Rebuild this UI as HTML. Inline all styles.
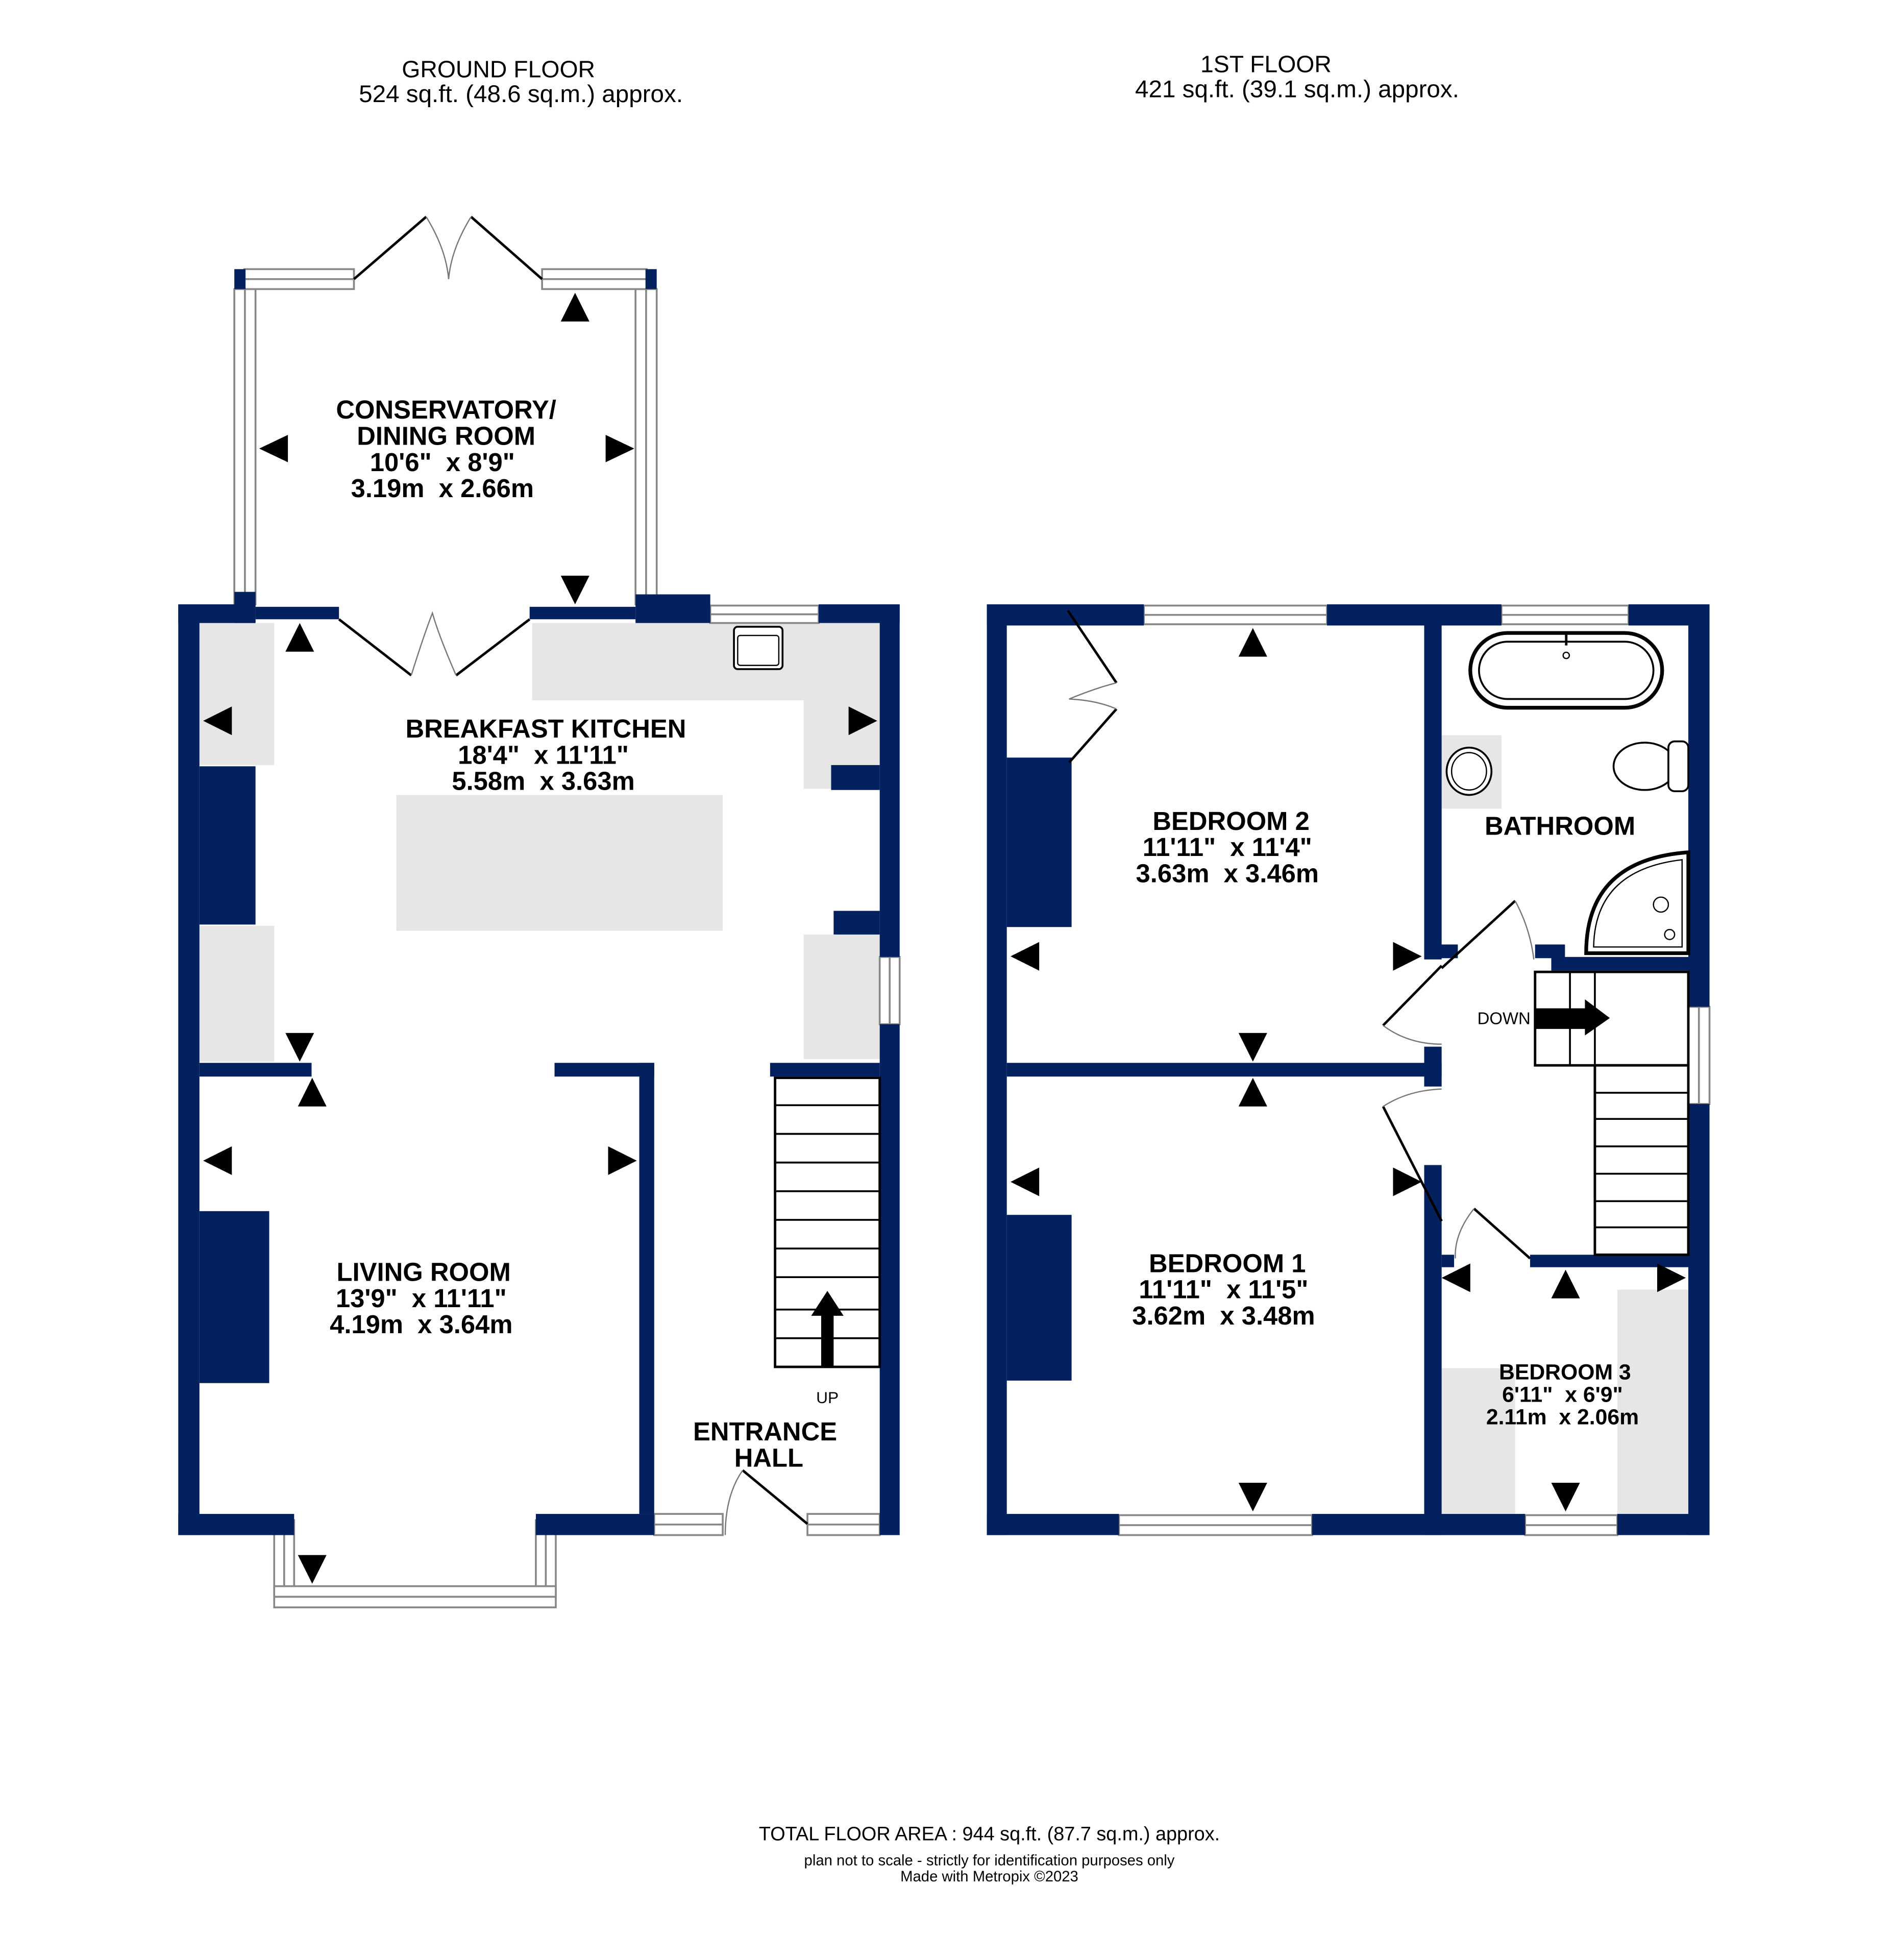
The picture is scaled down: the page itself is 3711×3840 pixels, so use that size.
<!DOCTYPE html>
<html><head><meta charset="utf-8"><style>
html,body{margin:0;padding:0;background:#fff}
svg{display:block}
text{font-family:"Liberation Sans",sans-serif;fill:#000;white-space:pre}
.b{font-weight:bold;font-size:20.8px}
.w{fill:#03215f}
.g{fill:#e6e6e6}
.ln{stroke:#000;stroke-width:2;fill:none}
.arc{stroke:#777;stroke-width:1;fill:none}
.st{stroke:#000;stroke-width:2;fill:#fff}
</style></head><body>
<svg width="3711" height="3840" viewBox="0 0 1520 1573" xmlns="http://www.w3.org/2000/svg" xml:space="preserve">
<rect width="1520" height="1573" fill="#fff"/>
<text x="400" y="62" font-size="19" text-anchor="middle">GROUND FLOOR</text>
<text x="418" y="82" font-size="19.5" text-anchor="middle">524 sq.ft. (48.6 sq.m.) approx.</text>
<text x="1016" y="58" font-size="19" text-anchor="middle">1ST FLOOR</text>
<text x="1041" y="78" font-size="19.5" text-anchor="middle">421 sq.ft. (39.1 sq.m.) approx.</text>
<text x="794" y="1477" font-size="15.5" text-anchor="middle">TOTAL FLOOR AREA : 944 sq.ft. (87.7 sq.m.) approx.</text>
<text x="794" y="1497" font-size="12" text-anchor="middle">plan not to scale - strictly for identification purposes only</text>
<text x="794" y="1510" font-size="12" text-anchor="middle">Made with Metropix ©2023</text>

<rect class="g" x="160" y="500" width="60" height="114"/>
<rect class="g" x="160" y="743" width="60" height="109"/>
<rect class="g" x="427" y="500" width="279" height="62"/>
<rect class="g" x="645" y="500" width="61" height="133"/>
<rect class="g" x="645" y="750" width="61" height="100"/>
<rect class="g" x="318" y="638" width="262" height="109"/>
<rect x="589" y="503" width="39" height="34" rx="3" fill="#fff" stroke="#000" stroke-width="1.5"/>
<rect x="592" y="510" width="33" height="24" rx="2" fill="none" stroke="#000" stroke-width="1"/>
<g fill="#fff" stroke="#888" stroke-width="1.5">
<rect x="188" y="232" width="17" height="253"/><line x1="196.5" y1="232" x2="196.5" y2="485"/>
<rect x="510" y="232" width="17" height="253"/><line x1="518.5" y1="232" x2="518.5" y2="485"/>
<rect x="196" y="216" width="88" height="16"/><line x1="196" y1="224" x2="284" y2="224"/>
<rect x="435" y="216" width="84" height="16"/><line x1="435" y1="224" x2="519" y2="224"/>
<rect x="570" y="486" width="87" height="14"/><line x1="570" y1="493" x2="657" y2="493"/>
<rect x="706" y="768" width="16" height="54"/><line x1="714" y1="768" x2="714" y2="822"/>
<rect x="525" y="1215" width="55" height="17"/><line x1="525" y1="1223.5" x2="580" y2="1223.5"/>
<rect x="648" y="1215" width="58" height="17"/><line x1="648" y1="1223.5" x2="706" y2="1223.5"/>
<rect x="220" y="1220" width="16" height="62"/><line x1="228" y1="1220" x2="228" y2="1282"/>
<rect x="430" y="1220" width="16" height="62"/><line x1="438" y1="1220" x2="438" y2="1282"/>
<rect x="220" y="1273" width="226" height="17"/><line x1="220" y1="1281.5" x2="446" y2="1281.5"/>
</g>
<rect class="w" x="188" y="216" width="9" height="16"/>
<rect class="w" x="518" y="216" width="9" height="16"/>
<g class="w">
<rect x="143" y="485" width="17" height="747"/>
<rect x="143" y="485" width="62" height="15"/>
<rect x="188" y="475" width="17" height="25"/>
<rect x="205" y="487" width="67" height="10"/>
<rect x="425" y="487" width="85" height="10"/>
<rect x="510" y="477" width="60" height="23"/>
<rect x="657" y="485" width="65" height="15"/>
<rect x="706" y="485" width="16" height="283"/>
<rect x="706" y="822" width="16" height="410"/>
<rect x="143" y="1215" width="93" height="17"/>
<rect x="430" y="1215" width="95" height="17"/>
<rect x="160" y="615" width="45" height="127"/>
<rect x="667" y="614" width="39" height="20"/>
<rect x="669" y="731" width="37" height="19"/>
<rect x="160" y="853" width="90" height="11"/>
<rect x="445" y="853" width="80" height="11"/>
<rect x="513" y="853" width="12" height="362"/>
<rect x="618" y="853" width="88" height="11"/>
<rect x="160" y="972" width="56" height="138"/>
</g>
<path class="ln" d="M284 224 L342 174 M435 224 L378 174 M272 497 L330 542 M425 497 L366 542"/>
<path class="arc" d="M342 174 Q358 200 360 224 Q362 200 378 174 M330 542 Q340 510 347 492 Q352 510 366 542"/>
<path class="ln" d="M648 1223 L596 1180"/>
<path class="arc" d="M596 1180 Q582 1200 582 1232"/>
<rect class="st" x="622" y="865" width="84" height="232"/>
<g stroke="#000" stroke-width="1.5">
<line x1="622" y1="887" x2="706" y2="887"/><line x1="622" y1="910" x2="706" y2="910"/><line x1="622" y1="933" x2="706" y2="933"/>
<line x1="622" y1="956" x2="706" y2="956"/><line x1="622" y1="979" x2="706" y2="979"/><line x1="622" y1="1002" x2="706" y2="1002"/>
<line x1="622" y1="1025" x2="706" y2="1025"/><line x1="622" y1="1051" x2="706" y2="1051"/><line x1="622" y1="1074" x2="706" y2="1074"/>
</g>
<path d="M659 1097 V1056 H651 L664 1036 L677 1056 H669 V1097 Z" fill="#000"/>
<text x="664" y="1126" font-size="13" text-anchor="middle">UP</text>
<g fill="#000">
<path d="M450 258 L473 258 L461.5 235Z"/>
<path d="M450 462 L473 462 L461.5 485Z"/>
<path d="M231 349 L231 371 L208 360Z"/>
<path d="M486 349 L486 371 L509 360Z"/>
<path d="M229 523 L252 523 L240.5 500Z"/>
<path d="M186 567 L186 590 L163 578.5Z"/>
<path d="M681 567 L681 590 L704 578.5Z"/>
<path d="M229 829 L252 829 L240.5 852Z"/>
<path d="M239 888 L262 888 L250.5 865Z"/>
<path d="M186 920 L186 943 L163 931.5Z"/>
<path d="M488 920 L488 943 L511 931.5Z"/>
<path d="M239 1248 L262 1248 L250.5 1271Z"/>
</g>
<text class="b" x="358" y="336" text-anchor="middle">CONSERVATORY/</text>
<text class="b" x="358" y="357" text-anchor="middle">DINING ROOM</text>
<text class="b" x="355" y="378" text-anchor="middle">10'6"  x 8'9"</text>
<text class="b" x="355" y="399" text-anchor="middle">3.19m  x 2.66m</text>
<text class="b" x="438" y="592" text-anchor="middle">BREAKFAST KITCHEN</text>
<text class="b" x="436" y="613" text-anchor="middle">18'4"  x 11'11"</text>
<text class="b" x="436" y="634" text-anchor="middle">5.58m  x 3.63m</text>
<text class="b" x="340" y="1028" text-anchor="middle">LIVING ROOM</text>
<text class="b" x="338" y="1049" text-anchor="middle">13'9"  x 11'11"</text>
<text class="b" x="338" y="1070" text-anchor="middle">4.19m  x 3.64m</text>
<text class="b" x="614" y="1156" text-anchor="middle">ENTRANCE</text>
<text class="b" x="617" y="1177" text-anchor="middle">HALL</text>

<rect class="g" x="1157" y="590" width="48" height="59"/>
<rect class="g" x="1157" y="1098" width="59" height="117"/>
<rect class="g" x="1298" y="1035" width="57" height="180"/>
<g fill="#fff" stroke="#888" stroke-width="1.5">
<rect x="918" y="486" width="147" height="15"/><line x1="918" y1="493.5" x2="1065" y2="493.5"/>
<rect x="1205" y="486" width="102" height="15"/><line x1="1205" y1="493.5" x2="1307" y2="493.5"/>
<rect x="1355" y="808" width="17" height="78"/><line x1="1363.5" y1="808" x2="1363.5" y2="886"/>
<rect x="898" y="1216" width="155" height="16"/><line x1="898" y1="1224" x2="1053" y2="1224"/>
<rect x="1224" y="1216" width="74" height="16"/><line x1="1224" y1="1224" x2="1298" y2="1224"/>
</g>
<g class="w">
<rect x="792" y="485" width="16" height="747"/>
<rect x="792" y="485" width="126" height="17"/>
<rect x="1065" y="485" width="140" height="17"/>
<rect x="1307" y="485" width="65" height="17"/>
<rect x="1355" y="485" width="17" height="323"/>
<rect x="1355" y="886" width="17" height="346"/>
<rect x="792" y="1215" width="106" height="17"/>
<rect x="1053" y="1215" width="171" height="17"/>
<rect x="1298" y="1215" width="74" height="17"/>
<rect x="1143" y="485" width="14" height="285"/>
<rect x="1143" y="758" width="27" height="11"/>
<rect x="1232" y="758" width="24" height="11"/>
<rect x="1245" y="768" width="127" height="11"/>
<rect x="1143" y="840" width="14" height="32"/>
<rect x="808" y="853" width="349" height="11"/>
<rect x="1143" y="935" width="14" height="297"/>
<rect x="1157" y="1007" width="10" height="10"/>
<rect x="1228" y="1007" width="144" height="10"/>
<rect x="808" y="608" width="52" height="136"/>
<rect x="808" y="975" width="52" height="133"/>
</g>
<path class="ln" d="M857 490 L896 548 M858 612 L896 569" stroke-width="1.5"/>
<path class="arc" d="M896 548 Q880 552 858 561 Q880 562 896 569"/>
<path class="ln" d="M1157 777 L1216 723 M1157 775 L1110 823 M1157 980 L1110 888 M1228 1010 L1183 970" stroke-width="1.5"/>
<path class="arc" d="M1216 723 Q1228 745 1231 770 M1110 823 Q1130 838 1157 838 M1110 888 Q1130 875 1157 874 M1183 970 Q1167 990 1168 1010"/>
<rect x="1180" y="508" width="154" height="60" rx="30" fill="#fff" stroke="#000" stroke-width="3"/>
<rect x="1187" y="515" width="140" height="46" rx="23" fill="none" stroke="#000" stroke-width="1.5"/>
<circle cx="1257" cy="526" r="2.5" fill="none" stroke="#000" stroke-width="1"/>
<line x1="1257" y1="508" x2="1257" y2="518" stroke="#000" stroke-width="2"/>
<ellipse cx="1179" cy="619" rx="18" ry="19" fill="#fff" stroke="#000" stroke-width="1.5"/>
<ellipse cx="1179" cy="619" rx="14" ry="15" fill="none" stroke="#000" stroke-width="1"/>
<ellipse cx="1320" cy="615" rx="25" ry="19" fill="#fff" stroke="#000" stroke-width="1.5"/>
<rect x="1339" y="595" width="16" height="40" rx="5" fill="#fff" stroke="#000" stroke-width="1.5"/>
<path d="M1355 684 L1355 765 L1273 765 Q1273 690 1355 684 Z" fill="#fff" stroke="#000" stroke-width="3"/>
<path d="M1350 690 L1350 760 L1279 760 Q1280 698 1350 690 Z" fill="none" stroke="#000" stroke-width="1"/>
<circle cx="1333" cy="726" r="6" fill="#fff" stroke="#000" stroke-width="1"/>
<circle cx="1340" cy="750" r="4" fill="none" stroke="#000" stroke-width="1"/>
<rect class="st" x="1232" y="780" width="123" height="75"/>
<rect class="st" x="1280" y="855" width="75" height="152"/>
<g stroke="#000" stroke-width="1.5">
<line x1="1260" y1="780" x2="1260" y2="855"/><line x1="1280" y1="780" x2="1280" y2="855"/>
<line x1="1232" y1="810" x2="1280" y2="810"/><line x1="1232" y1="825" x2="1280" y2="825"/>
<line x1="1280" y1="877" x2="1355" y2="877"/><line x1="1280" y1="898" x2="1355" y2="898"/>
<line x1="1280" y1="920" x2="1355" y2="920"/><line x1="1280" y1="942" x2="1355" y2="942"/>
<line x1="1280" y1="964" x2="1355" y2="964"/><line x1="1280" y1="985" x2="1355" y2="985"/>
</g>
<path d="M1232 810 H1272 V802 L1292 817 L1272 831 V825 H1232 Z" fill="#000"/>
<text x="1207" y="822" font-size="13.5" text-anchor="middle">DOWN</text>
<g fill="#000">
<path d="M994 527 L1017 527 L1005.5 504Z"/>
<path d="M834 756 L834 779 L811 767.5Z"/>
<path d="M1118 756 L1118 779 L1141 767.5Z"/>
<path d="M994 829 L1017 829 L1005.5 852Z"/>
<path d="M994 888 L1017 888 L1005.5 865Z"/>
<path d="M834 937 L834 960 L811 948.5Z"/>
<path d="M1118 937 L1118 960 L1141 948.5Z"/>
<path d="M994 1190 L1017 1190 L1005.5 1213Z"/>
<path d="M1180 1014 L1180 1037 L1157 1025.5Z"/>
<path d="M1245 1042 L1268 1042 L1256.5 1019Z"/>
<path d="M1330 1014 L1330 1037 L1353 1025.5Z"/>
<path d="M1245 1190 L1268 1190 L1256.5 1213Z"/>
</g>
<text class="b" x="988" y="666" text-anchor="middle">BEDROOM 2</text>
<text class="b" x="985" y="687" text-anchor="middle">11'11"  x 11'4"</text>
<text class="b" x="985" y="708" text-anchor="middle">3.63m  x 3.46m</text>
<text class="b" x="1252" y="670" text-anchor="middle">BATHROOM</text>
<text class="b" x="985" y="1021" text-anchor="middle">BEDROOM 1</text>
<text class="b" x="982" y="1042" text-anchor="middle">11'11"  x 11'5"</text>
<text class="b" x="982" y="1063" text-anchor="middle">3.62m  x 3.48m</text>
<text x="1256" y="1107" font-size="17.5" font-weight="bold" text-anchor="middle">BEDROOM 3</text>
<text x="1254" y="1125" font-size="17.5" font-weight="bold" text-anchor="middle">6'11"  x 6'9"</text>
<text x="1254" y="1143" font-size="17.5" font-weight="bold" text-anchor="middle">2.11m  x 2.06m</text>
</svg>
</body></html>
